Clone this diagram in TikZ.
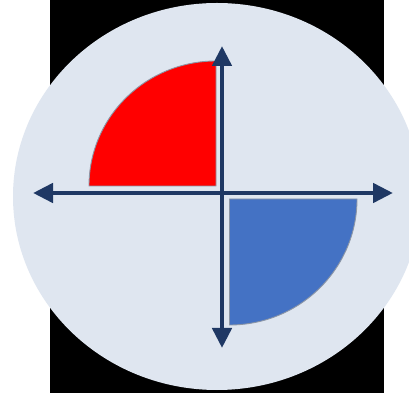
\documentclass[tikz,border=0pt]{standalone}
\usetikzlibrary{arrows.meta}
\definecolor{bgdisc}{HTML}{DFE6F0}
\definecolor{navy}{HTML}{1F3864}
\definecolor{qred}{HTML}{FF0000}
\definecolor{qblue}{HTML}{4472C4}
\definecolor{qedge}{HTML}{8C96A6}
\tikzset{
  axisarrow/.style={draw=navy, line width=4.6pt,
    {Triangle[length=20pt,width=19pt]}-{Triangle[length=20pt,width=19pt]}},
  quarter/.style={draw=qedge, line width=0.9pt}
}
\begin{document}
\begin{tikzpicture}[x=1pt,y=1pt]
\useasboundingbox (0,0) rectangle (409,393);
\clip (0,0) rectangle (409,393);
\fill[white] (0,0) rectangle (409,393);
\fill[black] (50,0) rectangle (384,393);
\fill[bgdisc] (217,196.5) ellipse [x radius=204, y radius=193.5];
% quarters
\filldraw[quarter, fill=qred] (216,207) -- (89,207) arc [start angle=180, end angle=90, x radius=127, y radius=125] -- cycle;
\filldraw[quarter, fill=qblue] (229.5,194) -- (357,194) arc [start angle=0, end angle=-90, x radius=127.5, y radius=126] -- cycle;
% axes
\coordinate (west) at (33,200);
\coordinate (east) at (393,200);
\coordinate (north) at (222,347);
\coordinate (south) at (222,45);
\draw[axisarrow] (west) -- (east);
\draw[axisarrow] (south) -- (north);
\end{tikzpicture}
\end{document}
